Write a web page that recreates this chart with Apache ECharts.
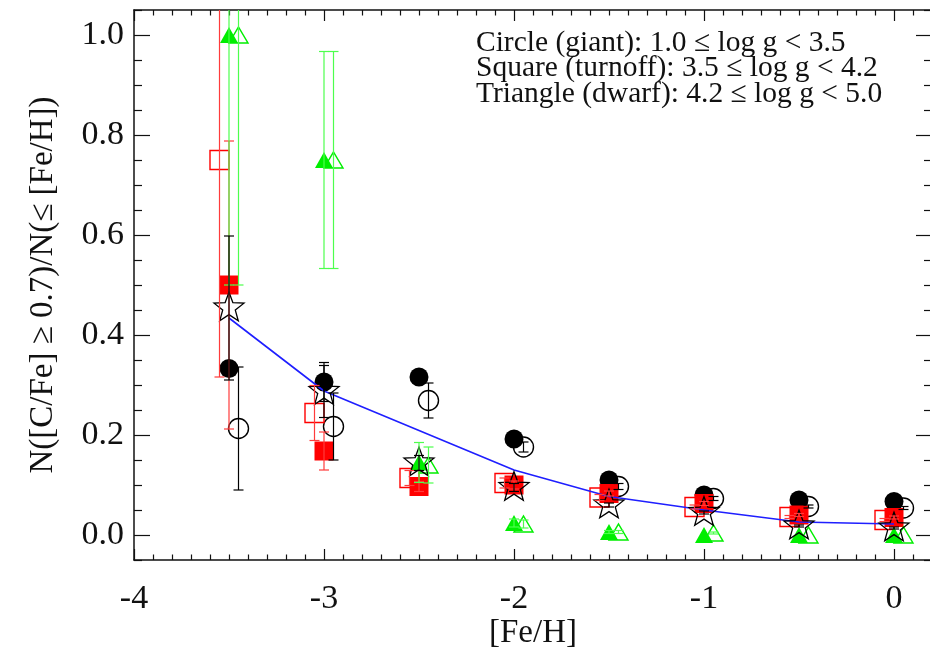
<!DOCTYPE html>
<html>
<head>
<meta charset="utf-8">
<script src="https://cdn.jsdelivr.net/npm/echarts@6/dist/echarts.min.js"></script>
<style>
html, body { margin: 0; padding: 0; background: #fff; }
#chart { width: 930px; height: 647px; }
</style>
</head>
<body>
<div id="chart"></div>
<script>
// [Fe/H] bins
const feh = [-3.5, -3.0, -2.5, -2.0, -1.5, -1.0, -0.5, 0.0];

// Giants (circles)
const giantFilled    = [0.333, 0.306, 0.316, 0.192, 0.110, 0.080, 0.070, 0.067];
const giantFilledErr = [0.000, 0.039, 0.000, 0.000, 0.000, 0.000, 0.000, 0.000];
const giantOpen      = [0.213, 0.217, 0.269, 0.176, 0.097, 0.073, 0.057, 0.054];
const giantOpenErr   = [0.123, 0.067, 0.035, 0.010, 0.006, 0.004, 0.003, 0.003];

// Turnoff stars (squares)
const turnoffFilled    = [0.500, 0.168, 0.097, 0.100, 0.083, 0.063, 0.040, 0.035];
const turnoffFilledErr = [0.288, 0.038, 0.010, 0.008, 0.005, 0.004, 0.003, 0.003];
const turnoffOpen      = [0.750, 0.244, 0.114, 0.104, 0.075, 0.056, 0.036, 0.030];
const turnoffOpenErr   = [0.434, 0.055, 0.015, 0.010, 0.006, 0.004, 0.003, 0.003];

// Dwarfs (triangles)
const dwarfFilled    = [1.000, 0.750, 0.145, 0.024, 0.006, 0.000, 0.000, 0.000];
const dwarfFilledErr = [0.500, 0.217, 0.040, 0.008, 0.003, 0.000, 0.000, 0.000];
const dwarfOpen      = [1.000, 0.750, 0.140, 0.022, 0.006, 0.004, 0.000, 0.000];
const dwarfOpenErr   = [0.500, 0.217, 0.036, 0.008, 0.003, 0.002, 0.000, 0.000];

// All stars (open stars) and the smooth trend
const allStars    = [0.454, 0.287, 0.144, 0.095, 0.060, 0.045, 0.018, 0.014];
const allStarsErr = [0.144, 0.052, 0.015, 0.008, 0.004, 0.003, 0.002, 0.002];
const trend       = [0.434, 0.288, 0.209, 0.130, 0.077, 0.050, 0.026, 0.022];

// Axis ticks
const xMajorTicks = [-4, -3, -2, -1, 0];
const yMajorTicks = [0.0, 0.2, 0.4, 0.6, 0.8, 1.0];

const X_MIN = -4, X_MAX = 0.2, Y_MIN = -0.05, Y_MAX = 1.05;

function minorTicks(lo, hi, step, majors) {
  const out = [];
  const n = Math.round((hi - lo) / step);
  for (let k = 0; k <= n; k++) {
    const v = +(lo + k * step).toFixed(4);
    if (!majors.some(m => Math.abs(m - v) < 1e-6)) out.push(v);
  }
  return out;
}
const xMinorTicks = minorTicks(-4, 0.2, 0.1, xMajorTicks);
const yMinorTicks = minorTicks(-0.05, 1.05, 0.05, yMajorTicks);

const SERIF = 'Liberation Serif';
const INK = '#111';

function xAxisDef(position, ticks, len, showLine, showLabel) {
  return {
    type: 'value', position, min: X_MIN, max: X_MAX,
    axisLine: { show: showLine, onZero: false, lineStyle: { color: INK, width: 1.5 } },
    axisTick: { show: true, inside: true, length: len, customValues: ticks, lineStyle: { color: INK, width: 1.2 } },
    axisLabel: showLabel ? {
      show: true, customValues: xMajorTicks, margin: 22,
      fontFamily: SERIF, fontSize: 34, color: INK,
      formatter: v => String(Math.round(v))
    } : { show: false },
    splitLine: { show: false }
  };
}
function yAxisDef(position, ticks, len, showLine, showLabel) {
  return {
    type: 'value', position, min: Y_MIN, max: Y_MAX,
    axisLine: { show: showLine, onZero: false, lineStyle: { color: INK, width: 1.5 } },
    axisTick: { show: true, inside: true, length: len, customValues: ticks, lineStyle: { color: INK, width: 1.2 } },
    axisLabel: showLabel ? {
      show: true, customValues: yMajorTicks, margin: 10,
      fontFamily: SERIF, fontSize: 34, color: INK,
      formatter: v => v.toFixed(1)
    } : { show: false },
    splitLine: { show: false }
  };
}

const xAxes = [
  Object.assign(xAxisDef('bottom', xMajorTicks, 11, true, true), {
    name: '[Fe/H]', nameLocation: 'middle', nameGap: 57, nameMoveOverlap: false,
    nameTextStyle: { fontFamily: SERIF, fontSize: 33, color: INK }
  }),
  xAxisDef('bottom', xMinorTicks, 5.5, false, false),
  xAxisDef('top', xMajorTicks, 11, true, false),
  xAxisDef('top', xMinorTicks, 5.5, false, false)
];
const yAxes = [
  Object.assign(yAxisDef('left', yMajorTicks, 16, true, true), {
    name: 'N([C/Fe] \u2265 0.7)/N(\u2264 [Fe/H])', nameLocation: 'middle', nameGap: 74,
    nameTextStyle: { fontFamily: SERIF, fontSize: 33, color: INK }
  }),
  yAxisDef('left', yMinorTicks, 8, false, false),
  yAxisDef('right', yMajorTicks, 16, true, false),
  yAxisDef('right', yMinorTicks, 8, false, false)
];

// Vertical error bars with small caps, cut off at the top of the frame
function errorBars(ys, errs, dx, color) {
  const data = [];
  feh.forEach((x, i) => {
    if (errs[i] > 0) data.push([x + dx, ys[i] - errs[i], ys[i] + errs[i]]);
  });
  return {
    type: 'custom', silent: true, z: 20,
    renderItem(params, api) {
      const x = api.value(0);
      const loV = Math.max(api.value(1), Y_MIN);
      const hiV = Math.min(api.value(2), Y_MAX);
      const lo = api.coord([x, loV]);
      const hi = api.coord([x, hiV]);
      const w = 5;
      const style = { stroke: color, lineWidth: 1.2, fill: null };
      const kids = [{ type: 'line', shape: { x1: lo[0], y1: lo[1], x2: hi[0], y2: hi[1] }, style }];
      if (api.value(1) >= Y_MIN) kids.push({ type: 'line', shape: { x1: lo[0] - w, y1: lo[1], x2: lo[0] + w, y2: lo[1] }, style });
      if (api.value(2) <= Y_MAX) kids.push({ type: 'line', shape: { x1: hi[0] - w, y1: hi[1], x2: hi[0] + w, y2: hi[1] }, style });
      return { type: 'group', children: kids };
    },
    encode: { x: 0, y: [1, 2] },
    data
  };
}

function markers(ys, dx, symbol, size, itemStyle, z, extra) {
  return Object.assign({
    type: 'scatter', silent: true, z,
    symbol, symbolSize: size, itemStyle: Object.assign({ opacity: 1 }, itemStyle),
    data: feh.map((x, i) => [x + dx, ys[i]])
  }, extra || {});
}

// outline of a five-pointed star
function starPath(inner) {
  const pts = [];
  for (let k = 0; k < 10; k++) {
    const r = k % 2 ? inner : 1;
    const a = -Math.PI / 2 + k * Math.PI / 5;
    pts.push((r * Math.cos(a)).toFixed(4) + ',' + (r * Math.sin(a)).toFixed(4));
  }
  return 'path://M' + pts.join('L') + 'Z';
}

const hollow = 'rgba(0,0,0,0)';
const RED = '#ff0000', GREEN = '#00ee00', BLUE = '#1f1fff';
const RED_BAR = '#ff3b3b', GREEN_BAR = '#4dff4d';

const series = [
  markers(giantOpen, 0.05, 'circle', 20, { color: hollow, borderColor: '#000', borderWidth: 1.4 }, 3),
  markers(giantFilled, 0, 'circle', 19, { color: '#000' }, 4),
  markers(turnoffOpen, -0.05, 'rect', 19, { color: hollow, borderColor: RED, borderWidth: 1.4 }, 5),
  markers(turnoffFilled, 0, 'rect', 19, { color: RED }, 6),
  markers(dwarfOpen, 0.05, 'triangle', [19, 16], { color: hollow, borderColor: GREEN, borderWidth: 1.4 }, 7),
  markers(dwarfFilled, 0, 'triangle', [18, 16], { color: GREEN }, 8),
  {
    type: 'line', silent: true, z: 9, symbol: 'none',
    lineStyle: { color: BLUE, width: 1.6 },
    data: feh.map((x, i) => [x, trend[i]])
  },
  markers(allStars, 0, starPath(0.42), [30, 28.5], { color: hollow, borderColor: '#000', borderWidth: 1.3 }, 10,
    { symbolOffset: [0, -1.5] }),
  errorBars(giantOpen, giantOpenErr, 0.05, '#000'),
  errorBars(giantFilled, giantFilledErr, 0, '#000'),
  errorBars(turnoffOpen, turnoffOpenErr, -0.05, RED_BAR),
  errorBars(turnoffFilled, turnoffFilledErr, 0, RED_BAR),
  errorBars(dwarfOpen, dwarfOpenErr, 0.05, GREEN_BAR),
  errorBars(dwarfFilled, dwarfFilledErr, 0, GREEN_BAR),
  errorBars(allStars, allStarsErr, 0, '#000')
];

const legendLines = [
  'Circle (giant): 1.0 \u2264 log g < 3.5',
  'Square (turnoff): 3.5 \u2264 log g < 4.2',
  'Triangle (dwarf): 4.2 \u2264 log g < 5.0'
];

const chart = echarts.init(document.getElementById('chart'), null, { renderer: 'canvas' });
chart.setOption({
  animation: false,
  backgroundColor: '#fff',
  grid: { left: 134, top: 10, width: 798, height: 550, containLabel: false, outerBoundsMode: 'none' },
  xAxis: xAxes,
  yAxis: yAxes,
  series,
  graphic: legendLines.map((t, i) => ({
    type: 'text', left: 476, top: 28 + i * 25.5, z: 50,
    style: { text: t, fontFamily: SERIF, fontSize: 29.5, fill: INK }
  }))
});
</script>
</body>
</html>
